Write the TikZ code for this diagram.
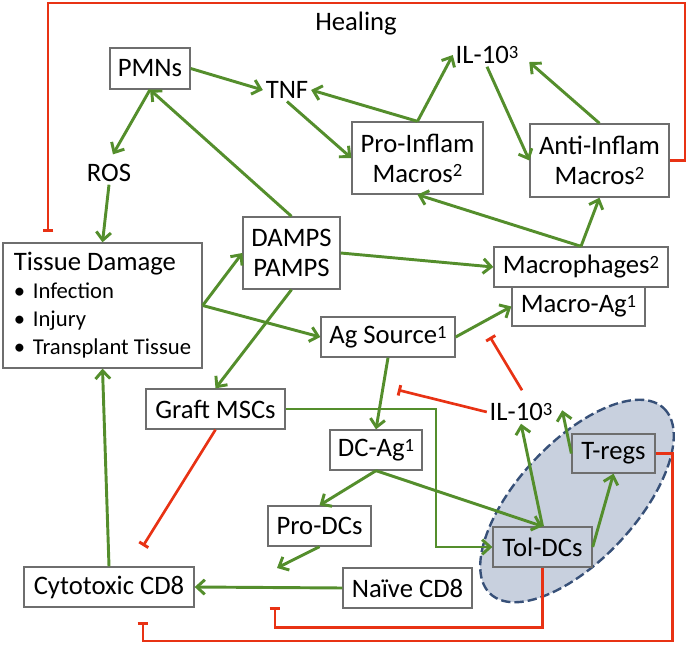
\documentclass[tikz,border=0pt]{standalone}
\usepackage{fontspec}
\setmainfont{Carlito}
\usetikzlibrary{arrows.meta,calc}
\newlength\pxu \setlength\pxu{0.75pt}
\definecolor{grn}{RGB}{84,142,44}
\definecolor{rd}{RGB}{232,50,20}
\definecolor{bx}{RGB}{110,110,110}
\definecolor{ellfill}{RGB}{200,208,222}
\definecolor{elldraw}{RGB}{55,80,120}
\newcommand\sps[1]{\raisebox{4pt}{\fontsize{14}{14}\selectfont #1}}
\begin{document}
\begin{tikzpicture}[x=0.75pt,y=-0.75pt,
  box/.style={draw=bx, line width=1pt, inner sep=0pt, align=center, font=\fontsize{20}{22.5}\selectfont},
  lbl/.style={inner sep=2pt, font=\fontsize{20}{22.5}\selectfont},
  act/.style={draw=grn, line width=2.2pt, -{Straight Barb[length=6pt,width=11pt]}},
  inh/.style={draw=rd, line width=2pt, -{Bar[width=8pt,line width=2.2pt]}}]
\useasboundingbox (0,0) rectangle (692,648);
% ellipse group
\draw[fill=ellfill, draw=elldraw, line width=1.8pt, dash pattern=on 7pt off 3pt, rotate around={47:(577,501)}] (577,501) ellipse [x radius=127, y radius=59];
% nodes
\node[box, minimum width=80\pxu, minimum height=41\pxu] (PMNs) at (150,68.5) {PMNs};
\node[box, minimum width=131\pxu, minimum height=72\pxu] (ProInf) at (417.5,158) {Pro-Inflam\\Macros\sps{2}};
\node[box, minimum width=139\pxu, minimum height=73\pxu] (AntiInf) at (599.5,160.5) {Anti-Inflam\\Macros\sps{2}};
\node[box, minimum width=199\pxu, minimum height=125\pxu, align=left, font=\fontsize{17}{21}\selectfont] (Tissue) at (102.5,305.5)
  {{\fontsize{20}{21}\selectfont Tissue Damage}\hspace{6\pxu}\\\makebox[19\pxu][l]{•}Infection\\\makebox[19\pxu][l]{•}Injury\\\makebox[19\pxu][l]{•}Transplant Tissue\hspace{6\pxu}};
\node[box, minimum width=97\pxu, minimum height=72\pxu] (DAMPS) at (291.5,253) {DAMPS\\PAMPS};
\node[box, minimum width=174\pxu, minimum height=40\pxu] (Macro) at (581,267) {Macrophages\sps{2}};
\node[box, minimum width=133\pxu, minimum height=39\pxu] (MacroAg) at (578.5,306.5) {Macro-Ag\sps{1}};
\node[box, minimum width=134\pxu, minimum height=40\pxu] (AgSrc) at (388,337) {Ag Source\sps{1}};
\node[box, minimum width=139\pxu, minimum height=40\pxu] (Graft) at (215.5,409) {Graft MSCs};
\node[box, minimum width=92\pxu, minimum height=40\pxu] (DCAg) at (376,450) {DC-Ag\sps{1}};
\node[box, minimum width=103\pxu, minimum height=40\pxu] (ProDC) at (319.5,526) {Pro-DCs};
\node[box, minimum width=83\pxu, minimum height=39\pxu] (Tregs) at (613.5,453.5) {T-regs};
\node[box, minimum width=99\pxu, minimum height=40\pxu] (TolDC) at (542.5,547) {Tol-DCs};
\node[box, minimum width=129\pxu, minimum height=40\pxu] (Naive) at (407.5,588) {Naïve CD8};
\node[box, minimum width=170\pxu, minimum height=40\pxu] (Cyto) at (109,587) {Cytotoxic CD8};
\node[lbl] (TNF) at (287,90) {TNF};
\node[lbl] (ROS) at (109,173) {ROS};
\node[lbl] (ILa) at (487,55) {IL-10\sps{3}};
\node[lbl] (ILb) at (521,412) {IL-10\sps{3}};
\node[lbl] (Heal) at (356,24) {Healing};
% coordinates
\coordinate (rtop) at (685,3);
\coordinate (ltop) at (48,3);
\coordinate (healEnd) at (48,232);
\coordinate (gturn) at (436,409);
\coordinate (prodcEnd) at (277,568);
\coordinate (graftEnd) at (143,546);
\coordinate (macroTee) at (490,337);
\coordinate (agTee) at (398,390);
\coordinate (naiveTee) at (275,607);
\coordinate (cytoTee) at (143,622);
% green activating connectors
\draw[act] (PMNs.east) -- (TNF.west);
\draw[act, shorten >=6pt] (PMNs.south) -- (ROS.north);
\draw[act] (DAMPS.north) -- (PMNs.south);
\draw[act] (ROS.south) -- (Tissue.north);
\draw[act] (ProInf.north) -- (TNF.east);
\draw[act] (ProInf.north) -- (ILa.west);
\draw[act] (TNF.south) -- (ProInf.west);
\draw[act] (ILa.south) -- (AntiInf.west);
\draw[act, shorten >=8pt] (AntiInf.north) -- (ILa.east);
\draw[act] (Macro.north) -- (ProInf.south);
\draw[act] (Macro.north) -- (AntiInf.south);
\draw[act] (Tissue.east) -- (DAMPS.west);
\draw[act] (Tissue.east) -- (AgSrc.west);
\draw[act] (DAMPS.east) -- (Macro.west);
\draw[act] (DAMPS.south) -- (Graft.north);
\draw[act] (AgSrc.east) -- (MacroAg.west);
\draw[act] (AgSrc.south) -- (DCAg.north);
\draw[act] (Graft.east) -- (gturn) |- (TolDC.west);
\draw[act] (DCAg.south) -- (ProDC.north);
\draw[act] (DCAg.south) -- (TolDC.north);
\draw[act] (ProDC.south) -- (prodcEnd);
\draw[act] (Naive.west) -- (Cyto.east);
\draw[act] (Cyto.north) -- (Tissue.south);
\draw[act] (TolDC.north) -- (ILb.south);
\draw[act] (TolDC.east) -- (Tregs.south);
\draw[act] (Tregs.west) -- ($(ILb.north east)+(7,10)$);
% red inhibiting connectors
\draw[inh] (AntiInf.east) -| (rtop) -- (ltop) -- (healEnd);
\draw[inh] (Graft.south) -- (graftEnd);
\draw[inh] ($(ILb.north)+(1,-10)$) -- (macroTee);
\draw[inh] (ILb.west) -- (agTee);
\draw[inh] (TolDC.south) -- ++(0,60) -| (naiveTee);
\draw[inh] (Tregs.east) -- ++(17,0) -- ++(0,187.5) -| (cytoTee);
\end{tikzpicture}
\end{document}
